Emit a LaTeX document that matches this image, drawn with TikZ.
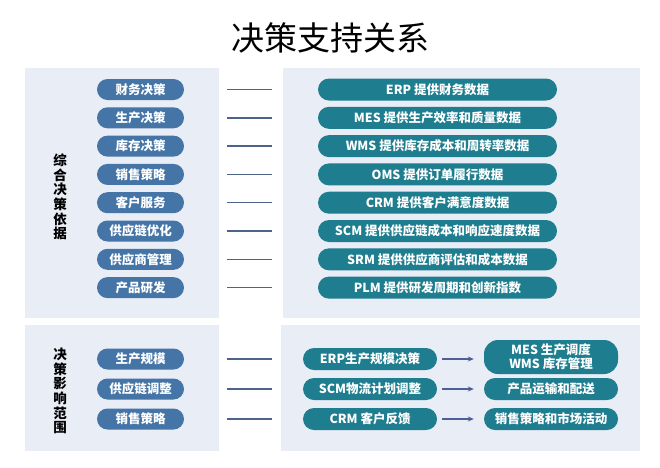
\documentclass[tikz,border=0pt]{standalone}
\usepackage{fontspec}
\newfontfamily\cjk{Noto Sans CJK SC}
\usetikzlibrary{arrows.meta}
\definecolor{panelbg}{HTML}{E9EDF6}
\definecolor{bluepill}{HTML}{4574A6}
\definecolor{tealpill}{HTML}{1E7D8E}
\definecolor{linec}{HTML}{4D6488}
\definecolor{arrowc}{HTML}{4F5E99}
\tikzset{
  panel/.style={fill=panelbg, draw=none},
  lpill/.style={fill=bluepill, draw=none, text=white, rounded corners=10.5pt,
    minimum width=87pt, minimum height=21pt, inner sep=0pt,
    font=\cjk\fontsize{12.5}{14}\selectfont\bfseries},
  rpill/.style={fill=tealpill, draw=none, text=white, rounded corners=11pt,
    minimum width=239pt, minimum height=22pt, inner sep=0pt,
    font=\cjk\fontsize{12.5}{14}\selectfont\bfseries},
  spill/.style={rpill, minimum width=134pt},
  sidelabel/.style={align=center, font=\cjk\fontsize{13.5}{14.7}\selectfont\bfseries, inner sep=0pt},
  link/.style={draw=linec, line width=1.5pt},
  arr/.style={draw=arrowc, line width=1.2pt, -{Stealth[length=6pt,width=5pt]}}
}
\begin{document}
\begin{tikzpicture}[x=1pt,y=-1pt]
\useasboundingbox (0,0) rectangle (660,467);
\fill[white] (0,0) rectangle (660,467);
% title
\node[font=\cjk\fontsize{33}{36}\selectfont, inner sep=0pt] (title) at (330,38) {决策支持关系};
% panels
\fill[panel] (25,68) rectangle (219,318);
\fill[panel] (283,68) rectangle (640,318);
\fill[panel] (25,325) rectangle (219,451);
\fill[panel] (281,325) rectangle (640,451);
% side labels
\node[sidelabel] (s1) at (60,197) {综\\合\\决\\策\\依\\据};
\node[sidelabel] (s2) at (60,391) {决\\策\\影\\响\\范\\围};
% upper rows
\foreach \i/\l/\r in {0/财务决策/ERP 提供财务数据,
                      1/生产决策/MES 提供生产效率和质量数据,
                      2/库存决策/WMS 提供库存成本和周转率数据,
                      3/销售策略/OMS 提供订单履行数据,
                      4/客户服务/CRM 提供客户满意度数据,
                      5/供应链优化/SCM 提供供应链成本和响应速度数据,
                      6/供应商管理/SRM 提供供应商评估和成本数据,
                      7/产品研发/PLM 提供研发周期和创新指数} {
  \pgfmathsetmacro{\yy}{89.5+28.3*\i}
  \node[lpill] (L\i) at (140.5,\yy) {\l};
  \node[rpill] (R\i) at (437.5,\yy) {\r};
  \coordinate (la\i) at (227,\yy);
  \coordinate (lb\i) at (272,\yy);
  \draw[link] (la\i) -- (lb\i);
}
% lower rows
\node[lpill] (P0) at (140.5,359) {生产规模};
\node[lpill] (P1) at (140.5,389) {供应链调整};
\node[lpill] (P2) at (140.5,419) {销售策略};
\foreach \i/\yy in {0/359,1/389,2/419} {
  \coordinate (pa\i) at (227,\yy);
  \coordinate (pb\i) at (272,\yy);
  \draw[link] (pa\i) -- (pb\i);
}
\node[spill] (A0) at (370,359) {ERP生产规模决策};
\node[spill] (A1) at (370,389) {SCM物流计划调整};
\node[spill] (A2) at (370,419) {CRM 客户反馈};
\node[spill, minimum height=34pt, rounded corners=14pt, align=center] (B0) at (551,357) {MES 生产调度\\WMS 库存管理};
\node[spill] (B1) at (551,389) {产品运输和配送};
\node[spill] (B2) at (551,419) {销售策略和市场活动};
\draw[arr] ([xshift=5pt]A0.east) -- ([xshift=-10pt]B0.west |- A0.east);
\draw[arr] ([xshift=5pt]A1.east) -- ([xshift=-10pt]B1.west);
\draw[arr] ([xshift=5pt]A2.east) -- ([xshift=-10pt]B2.west);
\end{tikzpicture}
\end{document}
